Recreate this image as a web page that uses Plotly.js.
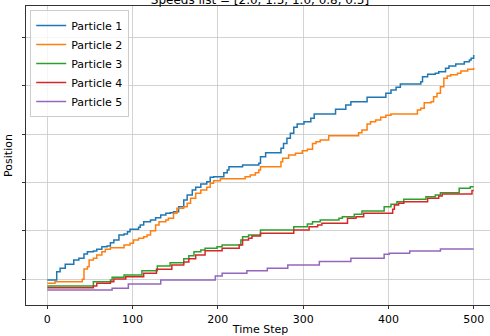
<!DOCTYPE html>
<html>
<head>
<meta charset="utf-8">
<script src="https://cdn.plot.ly/plotly-3.0.1.min.js"></script>
<style>
  html, body { margin: 0; padding: 0; overflow: hidden; background: #fff; }
  #chart { width: 500px; height: 336px; }
</style>
</head>
<body>
<div id="chart"></div>
<script>
// ---- Data ----
const titleText = "Speeds list = [2.0, 1.5, 1.0, 0.8, 0.5]";
const particleNames = ["Particle 1", "Particle 2", "Particle 3", "Particle 4", "Particle 5"];
const xTickVals = [0, 100, 200, 300, 400, 500];

const p1Steps = [0,11,15,21,31,37,43,47,54,58,64,70,74,78,84,90,94,97,107,109,113,121,127,133,139,144,148,154,160,164,170,174,180,187,191,195,207,211,213,229,248,250,256,274,277,281,285,289,293,301,309,313,338,350,356,375,397,403,409,414,438,440,446,455,459,467,471,479,489,495,497,500];
const p1Pos = [-1,7.6,11.1,15.2,19.7,21.4,25.9,28.3,29,30.7,33.4,34.2,37.6,40.4,45.5,46.6,49,51.4,53.5,55.9,59.3,61.1,63.4,66.2,68,68.6,69.7,74.8,81.8,86.9,92.1,94.9,98.3,100.7,105.3,105.9,110,112.8,116.2,118,119.7,126.6,130.7,135.3,140.4,145.6,150.8,157,160.4,162.8,166.3,170.8,175.6,180.1,183.5,188.1,192.2,195.6,198.4,201.8,204.2,209.4,211.9,212.9,214.6,218.1,220.5,222.5,224.9,226.7,228.4,231.8];

const p2Steps = [0,9,41,43,47,49,54,58,64,68,74,90,97,101,107,113,117,121,127,131,139,142,148,152,160,164,168,174,180,187,191,195,203,232,238,244,248,250,274,276,283,291,299,305,311,315,320,330,365,369,375,379,385,391,397,403,434,438,442,450,453,457,461,465,469,473,481,485,493,500];
const p2Pos = [-4.5,-2.8,-0.3,10.4,12.7,19.7,21.4,24.8,28.3,30.7,32.4,35.2,37,40.4,42.1,43.8,45.5,50,55.9,59.3,61.1,62.8,68,73.2,74.8,78.3,83.5,88.7,92.1,94.9,99,101.7,103.8,105.9,107.6,110,112.8,116.2,121.4,124.9,128.3,130.1,132.8,134.2,140.4,142.1,143.9,148.3,151.4,154.2,160.4,162.8,164.6,167.4,169.4,170.8,174.9,176.7,182.5,183.5,188.7,192.2,199,207.7,210.1,211.5,212.9,215.3,217,218.7];

const p3Steps = [0,54,74,76,90,111,129,144,160,166,172,180,185,199,205,227,229,236,250,289,305,311,320,342,346,360,369,395,403,410,418,444,455,461,483,496,500];
const p3Pos = [-7.2,-2.8,-1,1.8,4.1,8.6,13.5,16.9,21,24,28.3,30,31.8,33.4,35.2,40.4,43.8,45.5,50.7,54.1,56.9,59.3,61.1,62.8,64.5,67,70.4,74.8,77.3,80,82.5,85.2,86.9,89.3,93.9,95.5,95.5];

const p4Steps = [0,54,58,74,78,92,113,128,146,160,166,174,185,205,225,229,236,240,250,289,307,317,322,352,362,371,405,407,412,418,446,459,463,498,500];
const p4Pos = [-9,-7.2,-4.5,-2.8,0,2.4,5.9,10,14.5,17.5,21,24.8,29.3,31.8,35.2,40.4,42.1,44.5,47.3,50.7,54.1,55.9,57.7,62.8,64.5,68,72.1,76.6,78.3,80,83.5,85.9,88,91.6,91.6];

const p5Steps = [0,76,95,133,197,205,234,258,282,319,356,395,401,425,461,500];
const p5Pos = [-11.4,-9.6,-5.2,-1,3.1,5.9,8.6,11.1,14.5,18.1,21.4,25.6,26.6,29,31.1,31.1];

const colors = ["#1f77b4", "#ff7f0e", "#2ca02c", "#d62728", "#9467bd"];
const allSteps = [p1Steps, p2Steps, p3Steps, p4Steps, p5Steps];
const allPos = [p1Pos, p2Pos, p3Pos, p4Pos, p5Pos];

const traces = particleNames.map((name, i) => ({
  type: "scatter",
  mode: "lines",
  name: name,
  x: allSteps[i],
  y: allPos[i],
  line: { color: colors[i], width: 1.5, shape: "hv" }
}));

const font = { family: "DejaVu Sans, sans-serif", size: 11, color: "#000" };

const layout = {
  width: 500,
  height: 336,
  margin: { l: 26, r: 5, t: 6, b: 31, pad: 0 },
  paper_bgcolor: "#fff",
  plot_bgcolor: "#fff",
  font: font,
  title: {
    text: titleText,
    font: { family: "DejaVu Sans, sans-serif", size: 12, color: "#000" },
    x: 0.52, xanchor: "center",
    y: 1.0, yref: "container", yanchor: "middle"
  },
  showlegend: true,
  legend: {
    x: 0.009, y: 0.987, xanchor: "left", yanchor: "top",
    bgcolor: "rgba(255,255,255,0.8)",
    bordercolor: "#cccccc", borderwidth: 1,
    font: font,
    tracegroupgap: 0
  },
  xaxis: {
    range: [-25, 525],
    tickvals: xTickVals,
    ticks: "outside", ticklen: 3.5, tickcolor: "#000", tickwidth: 0.8,
    showgrid: true, gridcolor: "#c8c8c8", gridwidth: 0.8,
    zeroline: false,
    showline: true, linecolor: "#000", linewidth: 0.8, mirror: true,
    tickfont: font,
    title: { text: "Time Step", font: font, standoff: 2 }
  },
  yaxis: {
    range: [-26.9, 282.6],
    tickvals: [0, 50, 100, 150, 200, 250],
    showticklabels: false,
    ticks: "outside", ticklen: 3.5, tickcolor: "#000", tickwidth: 0.8,
    showgrid: true, gridcolor: "#c8c8c8", gridwidth: 0.8,
    zeroline: false,
    showline: true, linecolor: "#000", linewidth: 0.8, mirror: true,
    title: { text: "Position", font: font, standoff: 6 }
  }
};

Plotly.newPlot("chart", traces, layout, { displayModeBar: false, staticPlot: true });
</script>
</body>
</html>
